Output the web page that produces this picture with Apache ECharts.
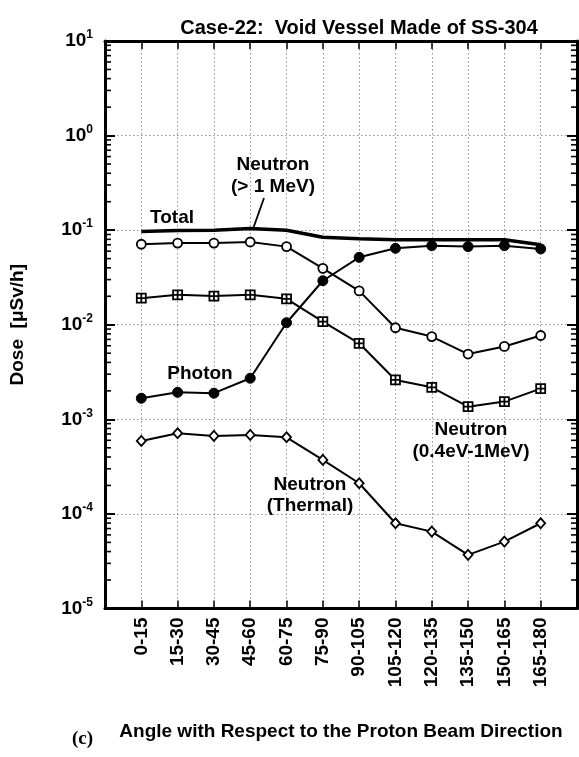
<!DOCTYPE html>
<html>
<head>
<meta charset="utf-8">
<script src="https://cdn.jsdelivr.net/npm/echarts@6/dist/echarts.min.js"></script>
<style>
html,body{margin:0;padding:0;background:#fff;}
#chart{width:579px;height:757px;}
</style>
</head>
<body>
<div id="chart"></div>
<script>
// ---- data ----
const categories = ['0-15','15-30','30-45','45-60','60-75','75-90','90-105','105-120','120-135','135-150','150-165','165-180'];
const totalDose   = [0.097, 0.099, 0.100, 0.104, 0.100, 0.084, 0.081, 0.079, 0.079, 0.079, 0.079, 0.070];
const neutronFast = [0.071, 0.073, 0.073, 0.075, 0.067, 0.0395, 0.0228, 0.0093, 0.0075, 0.0049, 0.0059, 0.0077];
const photon      = [0.00167, 0.00193, 0.00189, 0.00272, 0.0105, 0.0292, 0.0516, 0.0643, 0.0686, 0.067, 0.0686, 0.0633];
const neutronEpi  = [0.0191, 0.0207, 0.0201, 0.0207, 0.0188, 0.0108, 0.00637, 0.00261, 0.00218, 0.00136, 0.00154, 0.00211];
const neutronTh   = [0.000591, 0.000713, 0.000668, 0.000684, 0.000646, 0.000372, 0.000211, 0.0000797, 0.000065, 0.0000369, 0.000051, 0.0000797];
const yTickExponents = [-5, -4, -3, -2, -1, 0, 1];

// ---- helpers ----
const FONT = '"Liberation Sans", Arial, Helvetica, sans-serif';
const pairs = arr => arr.map((v, i) => [i, v]);
const minorVals = [];
for (let k = yTickExponents[0]; k < yTickExponents[yTickExponents.length - 1]; k++) {
  for (let m = 2; m <= 9; m++) minorVals.push([-1, m * Math.pow(10, k)]);
}

const chart = echarts.init(document.getElementById('chart'), null, {renderer: 'canvas'});

const lineBase = {
  type: 'line',
  lineStyle: {color: '#000', width: 2},
  itemStyle: {color: '#fff', borderColor: '#000', borderWidth: 1.8},
  symbolSize: 9,
  showAllSymbol: true,
  animation: false,
  z: 3
};

const axisLineStyle = {show: true, onZero: false, lineStyle: {color: '#000', width: 3}};
const gridLine = {show: true, lineStyle: {color: '#777', width: 0.8, type: [1.5, 2.5]}};

const option = {
  backgroundColor: '#fff',
  animation: false,
  title: {
    text: 'Case-22:  Void Vessel Made of SS-304',
    left: 354, top: 13, textAlign: 'center',
    textStyle: {fontFamily: FONT, fontWeight: 'bold', fontSize: 20, color: '#000'}
  },
  grid: {left: 105, right: 2, top: 41, bottom: 148.5, containLabel: false},
  xAxis: [{
    type: 'value', min: -1, max: 12, interval: 1,
    position: 'bottom',
    axisLine: axisLineStyle,
    axisTick: {show: true, inside: true, length: 8, lineStyle: {color: '#000', width: 1.5}},
    splitLine: gridLine,
    axisLabel: {
      rotate: 90, margin: 9,
      fontFamily: FONT, fontWeight: 'bold', fontSize: 19, color: '#000',
      formatter: v => (categories[v] !== undefined ? categories[v] : '')
    },
    name: 'Angle with Respect to the Proton Beam Direction',
    nameLocation: 'middle', nameGap: 114,
    nameTextStyle: {fontFamily: FONT, fontWeight: 'bold', fontSize: 19, color: '#000'}
  }, {
    type: 'value', min: -1, max: 12, interval: 1,
    position: 'top',
    axisLine: axisLineStyle,
    axisTick: {show: true, inside: true, length: 8, lineStyle: {color: '#000', width: 1.5}},
    splitLine: {show: false},
    axisLabel: {show: false}
  }],
  yAxis: [{
    type: 'log', logBase: 10, min: 1e-5, max: 10,
    position: 'left',
    axisLine: axisLineStyle,
    axisTick: {show: true, inside: true, length: 10, lineStyle: {color: '#000', width: 2}},
    splitLine: gridLine,
    axisLabel: {
      margin: 12,
      formatter: v => '{b|10}{s|' + Math.round(Math.log10(v)) + '}',
      rich: {
        b: {fontFamily: FONT, fontWeight: 'bold', fontSize: 19, color: '#000'},
        s: {fontFamily: FONT, fontWeight: 'bold', fontSize: 12, color: '#000', padding: [0, 0, 12, 0]}
      }
    },
    name: 'Dose  [μSv/h]',
    nameLocation: 'middle', nameGap: 78, nameRotate: 90,
    nameTextStyle: {fontFamily: FONT, fontWeight: 'bold', fontSize: 19, color: '#000'}
  }, {
    type: 'log', logBase: 10, min: 1e-5, max: 10,
    position: 'right',
    axisLine: axisLineStyle,
    axisTick: {show: true, inside: true, length: 10, lineStyle: {color: '#000', width: 2}},
    splitLine: {show: false},
    axisLabel: {show: false}
  }],
  graphic: [
    {type: 'text', x: 172, y: 218, style: {text: 'Total', fontFamily: FONT, fontWeight: 'bold', fontSize: 19, fill: '#000', align: 'center', verticalAlign: 'middle'}, z: 10},
    {type: 'text', x: 273, y: 176, style: {text: 'Neutron\n(> 1 MeV)', lineHeight: 22, fontFamily: FONT, fontWeight: 'bold', fontSize: 19, fill: '#000', align: 'center', verticalAlign: 'middle'}, z: 10},
    {type: 'line', shape: {x1: 264, y1: 198, x2: 253, y2: 229}, style: {stroke: '#000', lineWidth: 1.8}, z: 10},
    {type: 'text', x: 200, y: 374, style: {text: 'Photon', fontFamily: FONT, fontWeight: 'bold', fontSize: 19, fill: '#000', align: 'center', verticalAlign: 'middle'}, z: 10},
    {type: 'text', x: 310, y: 495, style: {text: 'Neutron\n(Thermal)', lineHeight: 21, fontFamily: FONT, fontWeight: 'bold', fontSize: 19, fill: '#000', align: 'center', verticalAlign: 'middle'}, z: 10},
    {type: 'text', x: 471, y: 441, style: {text: 'Neutron\n(0.4eV-1MeV)', lineHeight: 22, fontFamily: FONT, fontWeight: 'bold', fontSize: 19, fill: '#000', align: 'center', verticalAlign: 'middle'}, z: 10},
    {type: 'text', x: 72, y: 730, style: {text: '(c)', fontFamily: '"Liberation Serif", "Times New Roman", serif', fontWeight: 'bold', fontSize: 19, fill: '#000'}, z: 10}
  ],
  series: [
    {
      type: 'custom', name: 'minorTicks', xAxisIndex: 0, yAxisIndex: 0,
      data: minorVals, clip: false, silent: true, z: 5,
      renderItem: (params, api) => {
        const v = api.value(1);
        const pL = api.coord([-1, v]);
        const pR = api.coord([12, v]);
        return {
          type: 'group',
          children: [
            {type: 'line', shape: {x1: pL[0], y1: pL[1], x2: pL[0] + 6, y2: pL[1]}, style: {stroke: '#000', lineWidth: 1.6}},
            {type: 'line', shape: {x1: pR[0], y1: pR[1], x2: pR[0] - 6, y2: pR[1]}, style: {stroke: '#000', lineWidth: 1.6}}
          ]
        };
      }
    },
    Object.assign({}, lineBase, {name: 'Neutron (Thermal)', data: pairs(neutronTh), symbol: 'diamond', symbolSize: [9, 10]}),
    Object.assign({}, lineBase, {name: 'Neutron (0.4eV-1MeV)', data: pairs(neutronEpi),
      symbol: 'path://M0,0 L10,0 L10,10 L0,10 Z M5,0 L5,10 M0,5 L10,5', symbolSize: 9}),
    Object.assign({}, lineBase, {name: 'Photon', data: pairs(photon), symbol: 'circle', symbolSize: 10,
      itemStyle: {color: '#000', borderColor: '#000', borderWidth: 1}}),
    Object.assign({}, lineBase, {name: 'Neutron (> 1 MeV)', data: pairs(neutronFast), symbol: 'circle', symbolSize: 9}),
    Object.assign({}, lineBase, {name: 'Total', data: pairs(totalDose), symbol: 'none', lineStyle: {color: '#000', width: 3.5}, z: 4})
  ]
};
chart.setOption(option);
</script>
</body>
</html>
